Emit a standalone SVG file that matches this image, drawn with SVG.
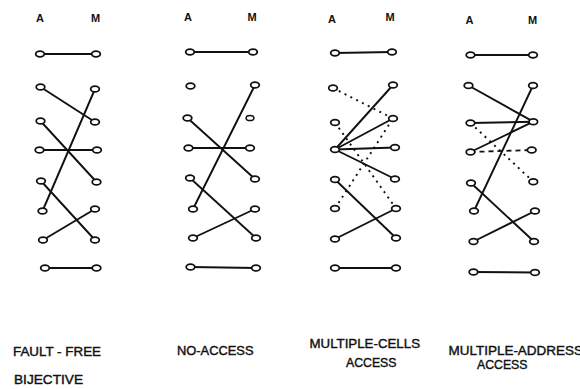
<svg xmlns="http://www.w3.org/2000/svg" width="580" height="389" viewBox="0 0 580 389">
  <style>
    .wire { stroke: #111; stroke-width: 1.9; fill: none; stroke-linecap: round; }
    .dot { stroke: #111; stroke-width: 1.9; fill: none; stroke-dasharray: 2 4.5; }
    .dash { stroke: #111; stroke-width: 1.8; fill: none; stroke-dasharray: 5 4; }
    .cell { fill: #fff; stroke: #111; stroke-width: 1.8; }
    .cell.small { stroke-width: 1.5; }
    .hdr { font-family: "Liberation Sans", Arial, sans-serif; font-size: 11px; font-weight: bold; fill: #111; text-anchor: middle; }
    .cap { font-family: "Liberation Sans", Arial, sans-serif; font-size: 12.5px; fill: #111; stroke: #111; stroke-width: 0.4; }
  </style>
  <rect width="580" height="389" fill="#fff"/>

  <!-- column headings: A = address, M = memory cell -->
  <g id="headings">
    <text class="hdr" x="40" y="22">A</text>
    <text class="hdr" x="95.5" y="22">M</text>
    <text class="hdr" x="188" y="21">A</text>
    <text class="hdr" x="252" y="21">M</text>
    <text class="hdr" x="332" y="22.5">A</text>
    <text class="hdr" x="390" y="21">M</text>
    <text class="hdr" x="469.5" y="24">A</text>
    <text class="hdr" x="532.5" y="24">M</text>
  </g>

  <g id="connectors">
    <!-- fault-free bijective -->
    <line class="wire" x1="40" y1="54" x2="96" y2="54"/>
    <line class="wire" x1="40.5" y1="87" x2="95" y2="122"/>
    <line class="wire" x1="40.5" y1="121" x2="96.5" y2="182"/>
    <line class="wire" x1="39.5" y1="150" x2="97" y2="150"/>
    <line class="wire" x1="41" y1="181" x2="95" y2="240"/>
    <line class="wire" x1="42.5" y1="211" x2="95" y2="89"/>
    <line class="wire" x1="43" y1="240" x2="95" y2="209"/>
    <line class="wire" x1="45" y1="268" x2="96.5" y2="268"/>

    <!-- no-access -->
    <line class="wire" x1="190" y1="52" x2="253" y2="52"/>
    <line class="wire" x1="187.5" y1="118" x2="255" y2="179"/>
    <line class="wire" x1="188.5" y1="148" x2="250" y2="148"/>
    <line class="wire" x1="190" y1="178" x2="256" y2="238"/>
    <line class="wire" x1="193" y1="209" x2="255" y2="85"/>
    <line class="wire" x1="193" y1="238" x2="255" y2="209"/>
    <line class="wire" x1="190.5" y1="267" x2="256" y2="268"/>

    <!-- multiple-cells access -->
    <line class="wire" x1="335" y1="53" x2="392" y2="52"/>
    <line class="dot" x1="333" y1="88" x2="393" y2="118.5"/>
    <line class="dot" x1="335" y1="122.5" x2="396" y2="208.5"/>
    <line class="dot" x1="335" y1="208.5" x2="393" y2="118.5"/>
    <line class="wire" x1="335" y1="149.5" x2="393" y2="85"/>
    <line class="wire" x1="335" y1="149.5" x2="393" y2="118.5"/>
    <line class="wire" x1="335" y1="149.5" x2="395" y2="147.5"/>
    <line class="wire" x1="335" y1="149.5" x2="395" y2="179"/>
    <line class="wire" x1="335" y1="179.5" x2="396" y2="238"/>
    <line class="wire" x1="335" y1="239" x2="396" y2="208.5"/>
    <line class="wire" x1="335" y1="268" x2="396" y2="268"/>

    <!-- multiple-address access -->
    <line class="wire" x1="470.5" y1="55" x2="533" y2="55"/>
    <line class="wire" x1="468.5" y1="85.5" x2="533.3" y2="121.7"/>
    <line class="wire" x1="470.5" y1="123" x2="533.3" y2="121.7"/>
    <line class="wire" x1="470.5" y1="152" x2="533.3" y2="121.7"/>
    <line class="dot" x1="470.5" y1="123" x2="533.3" y2="181.7"/>
    <line class="dash" x1="470.5" y1="152" x2="531.7" y2="150"/>
    <line class="wire" x1="474" y1="211" x2="533" y2="85.5"/>
    <line class="wire" x1="471" y1="183" x2="534" y2="241.5"/>
    <line class="wire" x1="473.5" y1="241.5" x2="535" y2="211"/>
    <line class="wire" x1="473.5" y1="272" x2="535" y2="272.5"/>
  </g>

  <!-- fault-free bijective: address and cell nodes -->
  <g id="ff-a1"><ellipse class="cell" cx="40" cy="54" rx="4.3" ry="2.9"/></g>
  <g id="ff-a2"><ellipse class="cell" cx="40.5" cy="87" rx="4.3" ry="2.9"/></g>
  <g id="ff-a3"><ellipse class="cell" cx="40.5" cy="121" rx="4.3" ry="2.9"/></g>
  <g id="ff-a4"><ellipse class="cell" cx="39.5" cy="150" rx="4.3" ry="2.9"/></g>
  <g id="ff-a5"><ellipse class="cell" cx="41" cy="181" rx="4.3" ry="2.9"/></g>
  <g id="ff-a6"><ellipse class="cell" cx="42.5" cy="211" rx="4.3" ry="2.9"/></g>
  <g id="ff-a7"><ellipse class="cell" cx="43" cy="240" rx="4.3" ry="2.9"/></g>
  <g id="ff-a8"><ellipse class="cell" cx="45" cy="268" rx="4.3" ry="2.9"/></g>
  <g id="ff-m1"><ellipse class="cell" cx="96" cy="54" rx="4.3" ry="2.9"/></g>
  <g id="ff-m2"><ellipse class="cell" cx="95" cy="89" rx="4.3" ry="2.9"/></g>
  <g id="ff-m3"><ellipse class="cell" cx="95" cy="122" rx="4.3" ry="2.9"/></g>
  <g id="ff-m4"><ellipse class="cell" cx="97" cy="150" rx="4.3" ry="2.9"/></g>
  <g id="ff-m5"><ellipse class="cell" cx="96.5" cy="182" rx="4.3" ry="2.9"/></g>
  <g id="ff-m6"><ellipse class="cell" cx="95" cy="209" rx="4.3" ry="2.9"/></g>
  <g id="ff-m7"><ellipse class="cell" cx="95" cy="240" rx="4.3" ry="2.9"/></g>
  <g id="ff-m8"><ellipse class="cell" cx="96.5" cy="268" rx="4.3" ry="2.9"/></g>

  <!-- no-access -->
  <g id="na-a1"><ellipse class="cell" cx="190" cy="52" rx="4.3" ry="2.9"/></g>
  <g id="na-a2"><ellipse class="cell" cx="190.5" cy="86" rx="4.3" ry="2.9"/></g>
  <g id="na-a3"><ellipse class="cell" cx="187.5" cy="118" rx="4.3" ry="2.9"/></g>
  <g id="na-a4"><ellipse class="cell" cx="188.5" cy="148" rx="4.3" ry="2.9"/></g>
  <g id="na-a5"><ellipse class="cell" cx="190" cy="178" rx="4.3" ry="2.9"/></g>
  <g id="na-a6"><ellipse class="cell" cx="193" cy="209" rx="4.3" ry="2.9"/></g>
  <g id="na-a7"><ellipse class="cell" cx="193" cy="238" rx="4.3" ry="2.9"/></g>
  <g id="na-a8"><ellipse class="cell" cx="190.5" cy="267" rx="4.3" ry="2.9"/></g>
  <g id="na-m1"><ellipse class="cell" cx="253" cy="52" rx="4.3" ry="2.9"/></g>
  <g id="na-m2"><ellipse class="cell" cx="255" cy="85" rx="4.3" ry="2.9"/></g>
  <g id="na-m3"><ellipse class="cell small" cx="250" cy="118" rx="3.9" ry="2.6"/></g>
  <g id="na-m4"><ellipse class="cell" cx="250" cy="148" rx="4.3" ry="2.9"/></g>
  <g id="na-m5"><ellipse class="cell" cx="255" cy="179" rx="4.3" ry="2.9"/></g>
  <g id="na-m6"><ellipse class="cell" cx="255" cy="209" rx="4.3" ry="2.9"/></g>
  <g id="na-m7"><ellipse class="cell" cx="256" cy="238" rx="4.3" ry="2.9"/></g>
  <g id="na-m8"><ellipse class="cell" cx="256" cy="268" rx="4.3" ry="2.9"/></g>

  <!-- multiple-cells access -->
  <g id="mc-a1"><ellipse class="cell" cx="335" cy="53" rx="4.3" ry="2.9"/></g>
  <g id="mc-a2"><ellipse class="cell" cx="333" cy="88" rx="4.3" ry="2.9"/></g>
  <g id="mc-a3"><ellipse class="cell" cx="335" cy="122.5" rx="4.3" ry="2.9"/></g>
  <g id="mc-a4"><ellipse class="cell" cx="335" cy="149.5" rx="4.3" ry="2.9"/></g>
  <g id="mc-a5"><ellipse class="cell" cx="335" cy="179.5" rx="4.3" ry="2.9"/></g>
  <g id="mc-a6"><ellipse class="cell" cx="335" cy="208.5" rx="4.3" ry="2.9"/></g>
  <g id="mc-a7"><ellipse class="cell" cx="335" cy="239" rx="4.3" ry="2.9"/></g>
  <g id="mc-a8"><ellipse class="cell" cx="335" cy="268" rx="4.3" ry="2.9"/></g>
  <g id="mc-m1"><ellipse class="cell" cx="392" cy="52" rx="4.3" ry="2.9"/></g>
  <g id="mc-m2"><ellipse class="cell" cx="393" cy="85" rx="4.3" ry="2.9"/></g>
  <g id="mc-m3"><ellipse class="cell" cx="393" cy="118.5" rx="4.3" ry="2.9"/></g>
  <g id="mc-m4"><ellipse class="cell" cx="395" cy="147.5" rx="4.3" ry="2.9"/></g>
  <g id="mc-m5"><ellipse class="cell" cx="395" cy="179" rx="4.3" ry="2.9"/></g>
  <g id="mc-m6"><ellipse class="cell" cx="396" cy="208.5" rx="4.3" ry="2.9"/></g>
  <g id="mc-m7"><ellipse class="cell" cx="396" cy="238" rx="4.3" ry="2.9"/></g>
  <g id="mc-m8"><ellipse class="cell" cx="396" cy="268" rx="4.3" ry="2.9"/></g>

  <!-- multiple-address access -->
  <g id="ma-a1"><ellipse class="cell" cx="470.5" cy="55" rx="4.3" ry="2.9"/></g>
  <g id="ma-a2"><ellipse class="cell" cx="468.5" cy="85.5" rx="4.3" ry="2.9"/></g>
  <g id="ma-a3"><ellipse class="cell" cx="470.5" cy="123" rx="4.3" ry="2.9"/></g>
  <g id="ma-a4"><ellipse class="cell" cx="470.5" cy="152" rx="4.3" ry="2.9"/></g>
  <g id="ma-a5"><ellipse class="cell" cx="471" cy="183" rx="4.3" ry="2.9"/></g>
  <g id="ma-a6"><ellipse class="cell" cx="474" cy="211" rx="4.3" ry="2.9"/></g>
  <g id="ma-a7"><ellipse class="cell" cx="473.5" cy="241.5" rx="4.3" ry="2.9"/></g>
  <g id="ma-a8"><ellipse class="cell" cx="473.5" cy="272" rx="4.3" ry="2.9"/></g>
  <g id="ma-m1"><ellipse class="cell" cx="533" cy="55" rx="4.3" ry="2.9"/></g>
  <g id="ma-m2"><ellipse class="cell" cx="533" cy="85.5" rx="4.3" ry="2.9"/></g>
  <g id="ma-m3"><ellipse class="cell" cx="533.3" cy="121.7" rx="4.3" ry="2.9"/></g>
  <g id="ma-m4"><ellipse class="cell" cx="531.7" cy="150" rx="4.3" ry="2.9"/></g>
  <g id="ma-m5"><ellipse class="cell" cx="533.3" cy="181.7" rx="4.3" ry="2.9"/></g>
  <g id="ma-m6"><ellipse class="cell" cx="535" cy="211" rx="4.3" ry="2.9"/></g>
  <g id="ma-m7"><ellipse class="cell" cx="534" cy="241.5" rx="4.3" ry="2.9"/></g>
  <g id="ma-m8"><ellipse class="cell" cx="535" cy="272.5" rx="4.3" ry="2.9"/></g>

  <!-- captions -->
  <g id="captions">
    <text class="cap" x="13" y="356" textLength="88" lengthAdjust="spacingAndGlyphs">FAULT - FREE</text>
    <text class="cap" x="14" y="383.5" textLength="69" lengthAdjust="spacingAndGlyphs">BIJECTIVE</text>
    <text class="cap" x="177" y="354.5" textLength="76.5" lengthAdjust="spacingAndGlyphs">NO-ACCESS</text>
    <text class="cap" x="309.5" y="347.5" textLength="110.5" lengthAdjust="spacingAndGlyphs">MULTIPLE-CELLS</text>
    <text class="cap" x="346" y="367" textLength="50.5" lengthAdjust="spacingAndGlyphs">ACCESS</text>
    <text class="cap" x="448.5" y="354.5" textLength="134.5" lengthAdjust="spacingAndGlyphs">MULTIPLE-ADDRESS</text>
    <text class="cap" x="477" y="369" textLength="50.5" lengthAdjust="spacingAndGlyphs">ACCESS</text>
  </g>
</svg>
